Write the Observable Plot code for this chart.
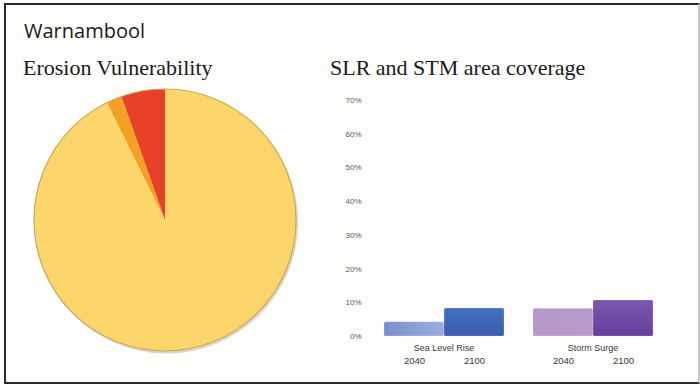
<!DOCTYPE html>
<html>
<head>
<meta charset="utf-8">
<script src="https://cdn.jsdelivr.net/npm/d3@7"></script>
<script src="https://cdn.jsdelivr.net/npm/@observablehq/plot@0.6"></script>
<style>
  html, body { margin: 0; padding: 0; background: #fdfdfb; }
  #chart { position: relative; width: 700px; height: 386px; overflow: hidden; background: #fdfdfb; }
  #frame { position: absolute; left: 4px; top: 3px; width: 692px; height: 377px;
           border: 2px solid #2b2b2b; border-right-color: #c8c8c8; }
  .place { position: absolute; left: 24px; top: 21px; font: 20px "Open Sans", sans-serif; line-height: 20px; color: #1a1a1a; }
  .title { position: absolute; top: 57px; font: 22px "Liberation Serif", serif; line-height: 22px; color: #1a1a1a; white-space: nowrap; }
  #pie { position: absolute; left: 30px; top: 85px; }
  #bars { position: absolute; left: 320px; top: 90px; }
</style>
</head>
<body>
<div id="chart">
  <div id="frame"></div>
  <div class="place" id="place"></div>
  <div class="title" id="pieTitle" style="left:23px"></div>
  <div class="title" id="barTitle" style="left:330px"></div>
  <div id="pie"></div>
  <div id="bars"></div>
</div>
<script>
// Labels
const placeName = "Warnambool";
const pieTitle = "Erosion Vulnerability";
const barTitle = "SLR and STM area coverage";

// Erosion vulnerability shares (% of coastline), drawn counter-clockwise from 12 o'clock
const erosionClasses = ["High", "Moderate", "Low"];
const erosionShares = [5.4, 1.9, 92.7];
const erosionColors = ["#e8412a", "#f3a024", "#fdd66b"];

// Area coverage by hazard and year (%)
const hazards = ["Sea Level Rise", "Storm Surge"];
const years = ["2040", "2100"];
const slrCoverage = [4.2, 8.3];
const stormCoverage = [8.2, 10.7];
// Each bar is shaded between two tones: [start, end, direction]
const barShades = [
  ["#7d8dca", "#9dade0", "h"],
  ["#4470c2", "#3a5cae", "v"],
  ["#b698ca", "#b89bcc", "h"],
  ["#7858ad", "#693f9d", "v"]
];
const yTicks = [0, 10, 20, 30, 40, 50, 60, 70];

document.getElementById("place").textContent = placeName;
document.getElementById("pieTitle").textContent = pieTitle;
document.getElementById("barTitle").textContent = barTitle;

// ---- Pie: a render-function mark laying out slices with d3.pie ----
const pieRows = erosionClasses.map((c, i) => ({cls: c, share: erosionShares[i], color: erosionColors[i]}));

function pieSlices(index, scales, values, dims) {
  const r = Math.min(dims.width, dims.height) / 2 - 4;
  const layout = d3.pie().value(d => d.share).sort(null).startAngle(0).endAngle(-2 * Math.PI)(pieRows);
  const arc = d3.arc().innerRadius(0).outerRadius(r);
  const g = d3.create("svg:g").attr("transform", `translate(${dims.width / 2},${dims.height / 2})`);
  g.append("circle").attr("cx", 1.5).attr("cy", 2).attr("r", r + 0.5).attr("fill", "#ddd6c4");
  g.selectAll("path.slice").data(layout).join("path")
    .attr("class", "slice")
    .attr("d", arc)
    .attr("fill", d => d.data.color);
  g.append("circle").attr("r", r).attr("fill", "none").attr("stroke", "#caa95a").attr("stroke-width", 1.2);
  return g.node();
}

const pie = Plot.plot({
  width: 270, height: 270, margin: 0,
  x: {axis: null}, y: {axis: null},
  style: {background: "transparent"},
  marks: [pieSlices]
});
document.getElementById("pie").append(pie);

// ---- Grouped bars ----
const barRows = hazards.flatMap((h, i) => years.map((y, j) => ({
  hazard: h, year: y, value: (i === 0 ? slrCoverage : stormCoverage)[j], fill: `url(#barShade${i * 2 + j})`
})));

// Gradient definitions referenced by the bar fills
function barGradients() {
  const defs = d3.create("svg:defs");
  barShades.forEach(([a, b, dir], k) => {
    const lg = defs.append("linearGradient").attr("id", `barShade${k}`)
      .attr("x1", 0).attr("y1", 0).attr("x2", dir === "h" ? 1 : 0).attr("y2", dir === "h" ? 0 : 1);
    lg.append("stop").attr("offset", 0).attr("stop-color", a);
    lg.append("stop").attr("offset", 1).attr("stop-color", b);
  });
  return defs.node();
}

const bars = Plot.plot({
  width: 360, height: 290,
  marginTop: 10, marginBottom: 44, marginLeft: 63, marginRight: 27,
  style: {background: "transparent", fontFamily: "Liberation Sans, sans-serif", fontSize: "8px", color: "#5a5a5a"},
  fx: {domain: hazards, paddingInner: 0.19, paddingOuter: 0, axis: null, label: null},
  x: {domain: years, padding: 0, axis: null},
  y: {domain: [0, 70], ticks: yTicks, tickFormat: d => d + "%", tickSize: 0, tickPadding: 22, label: null},
  marks: [
    barGradients,
    Plot.barY(barRows, {fx: "hazard", x: "year", y: "value", fill: "fill", inset: 0, rx: 1.5,
                        stroke: "#ffffff", strokeOpacity: 0.35, strokeWidth: 0.6}),
    Plot.text(barRows, {fx: "hazard", x: "year", text: "year", frameAnchor: "bottom", dy: 27, fontSize: 9.5, fill: "#3a3a3a"}),
    Plot.text(hazards, {fx: d => d, text: d => d, frameAnchor: "bottom", dy: 14, fontSize: 9, fill: "#3a3a3a"})
  ]
});
document.getElementById("bars").append(bars);
</script>
</body>
</html>
